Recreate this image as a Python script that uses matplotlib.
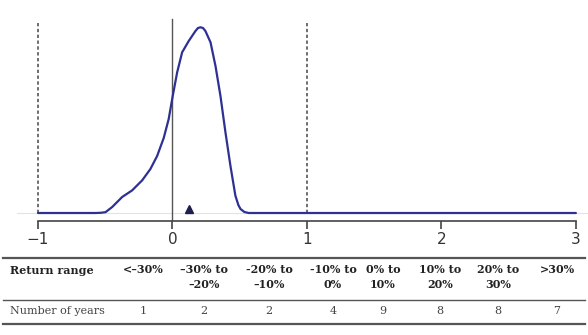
import numpy as np
import matplotlib.pyplot as plt
from matplotlib.lines import Line2D

# density curve (x = annual return, y = relative density)
curve_x = [-1.0, -0.6, -0.572, -0.535, -0.498, -0.448, -0.374, -0.300, -0.225, -0.164,
           -0.114, -0.065, -0.028, 0.002, 0.035, 0.072, 0.121, 0.171, 0.190, 0.208,
           0.227, 0.245, 0.283, 0.320, 0.357, 0.394, 0.431, 0.468, 0.490, 0.506,
           0.535, 0.567, 0.7, 1.0, 2.0, 3.0]
curve_y = [0.0, 0.0, 0.0, 0.002, 0.008, 0.06, 0.16, 0.226, 0.327, 0.44,
           0.57, 0.75, 0.94, 1.17, 1.407, 1.607, 1.72, 1.82, 1.85, 1.857,
           1.85, 1.82, 1.707, 1.47, 1.17, 0.807, 0.473, 0.173, 0.08, 0.04,
           0.01, 0.0, 0.0, 0.0, 0.0, 0.0]
mean_return = 0.12

ranges = ["<\u201330%", "\u201330% to\n\u201320%", "-20% to\n\u201310%", "-10% to\n0%",
          "0% to\n10%", "10% to\n20%", "20% to\n30%", ">30%"]
years = [1, 2, 2, 4, 9, 8, 8, 7]

fig = plt.figure(figsize=(5.88, 3.35), dpi=100)
W, H = 588, 335
ax = fig.add_axes([17 / W, 1 - 221 / H, (588 - 17) / W, (221 - 10) / H])

navy = "#2e3192"
dark = "#444444"

ax.set_xlim(-1.156, 3.09)
ax.set_ylim(-0.08, 2.03)
ax.axhline(0, color="#e3e3e3", lw=0.8, zorder=1)
ax.plot(curve_x, curve_y, color=navy, lw=1.6, zorder=3,
        solid_joinstyle="round", solid_capstyle="round")
ax.axvline(0, ymin=0, ymax=(221 - 19) / 211, color="#555555", lw=1.0, zorder=2)
for xv in (-1, 1):
    ax.plot([xv, xv], [0, 1.92], color="#555555", lw=1.2, ls=(0, (2, 1.5)), zorder=2)
ax.plot([mean_return], [0.04], marker="^", color="#1f1f4f", markersize=6, zorder=4)

for s in ("top", "right", "left"):
    ax.spines[s].set_visible(False)
ax.spines["bottom"].set_bounds(-1, 3)
ax.spines["bottom"].set_color(dark)
ax.spines["bottom"].set_linewidth(1.2)
ax.set_yticks([])
ax.set_xticks([-1, 0, 1, 2, 3])
ax.set_xticklabels(["\u22121", "0", "1", "2", "3"])
ax.tick_params(axis="x", length=6, width=1.2, color=dark, labelcolor="#333333",
               labelsize=11, pad=2)

# table below the chart
serif = "DejaVu Serif"
def fy(py):
    return 1 - py / H

for py, lw in ((258, 1.6), (300, 1.0), (324, 1.6)):
    fig.add_artist(Line2D([3 / W, 585 / W], [fy(py), fy(py)], color="#555555", lw=lw))

fig.text(10 / W, fy(270), "Return range", family=serif, weight="bold", fontsize=8,
         color="#222222", va="center", ha="left")
fig.text(10 / W, fy(311), "Number of years", family=serif, fontsize=8,
         color="#444444", va="center", ha="left")
col_x = [143, 204, 269, 333, 383, 440, 498, 557]
for cx, lab, n in zip(col_x, ranges, years):
    fig.text(cx / W, fy(264), lab, family=serif, weight="bold", fontsize=8,
             color="#222222", va="top", ha="center", linespacing=1.45)
    fig.text(cx / W, fy(311), str(n), family=serif, fontsize=8,
             color="#444444", va="center", ha="center")

fig.savefig("out.png", dpi=100)
